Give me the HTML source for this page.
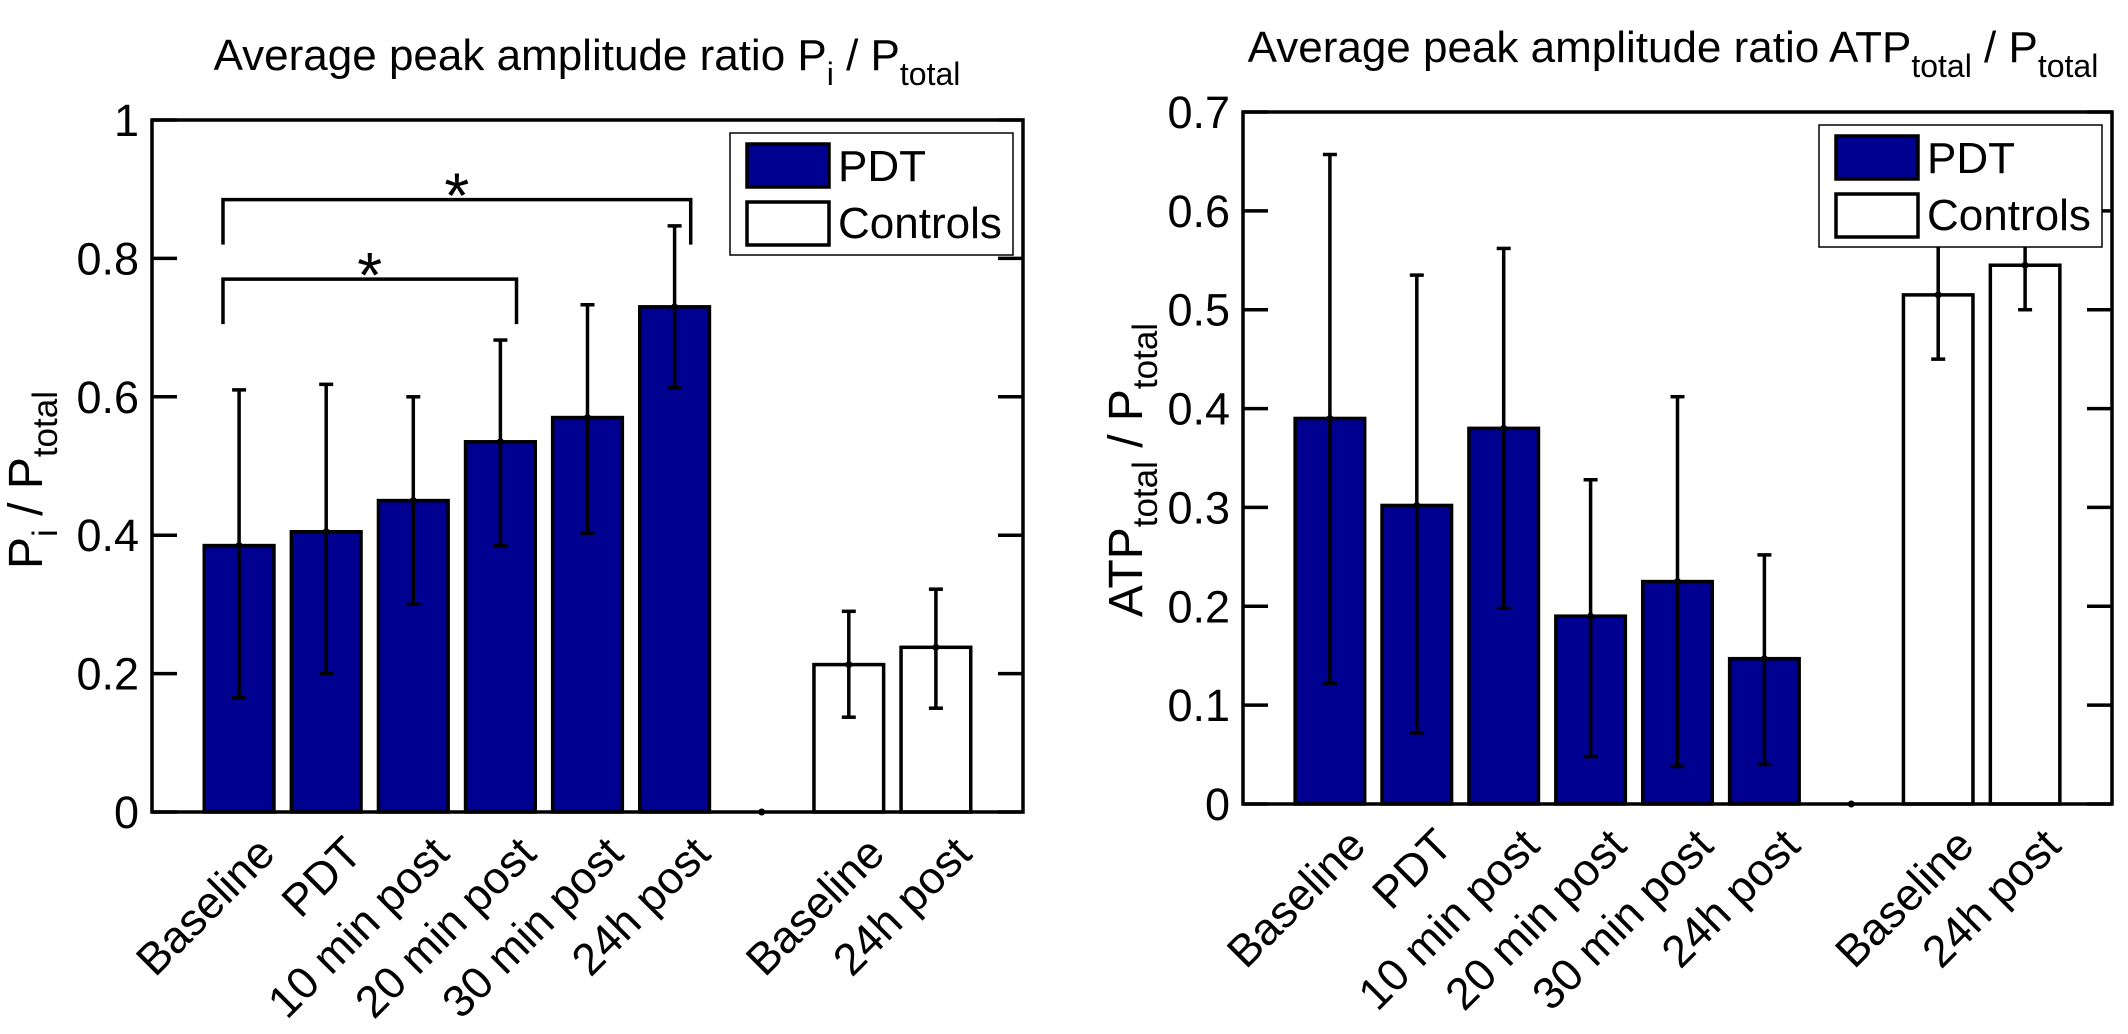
<!DOCTYPE html>
<html><head><meta charset="utf-8"><style>
html,body{margin:0;padding:0;background:#fff}
svg{display:block;font-family:"Liberation Sans",Arial,sans-serif}
</style></head><body>
<svg id="fig" width="2128" height="1034" viewBox="0 0 2128 1034" xmlns="http://www.w3.org/2000/svg">
<rect width="2128" height="1034" fill="#fff"/>
</svg>
<script>
const categories = ["Baseline","PDT","10 min post","20 min post","30 min post","24h post","","Baseline","24h post"];
const groups = ["PDT","PDT","PDT","PDT","PDT","PDT","none","Controls","Controls"];
const leftValues = [0.385,0.405,0.45,0.535,0.57,0.73,0,0.213,0.238];
const leftLow = [0.165,0.2,0.3,0.385,0.403,0.613,0,0.137,0.15];
const leftHigh = [0.61,0.618,0.6,0.682,0.733,0.847,0,0.29,0.322];
const leftTicks = [0,0.2,0.4,0.6,0.8,1];
const leftTickLabels = ["0","0.2","0.4","0.6","0.8","1"];
const rightValues = [0.39,0.302,0.38,0.19,0.225,0.147,0,0.515,0.545];
const rightLow = [0.122,0.072,0.198,0.048,0.038,0.04,0,0.45,0.5];
const rightHigh = [0.657,0.535,0.562,0.328,0.412,0.252,0,0.58,0.59];
const rightTicks = [0,0.1,0.2,0.3,0.4,0.5,0.6,0.7];
const rightTickLabels = ["0","0.1","0.2","0.3","0.4","0.5","0.6","0.7"];
const sigFrom = [1,1];
const sigTo = [4,6];
const sigLevel = [0.77,0.885];

const NS="http://www.w3.org/2000/svg";
const svg=document.getElementById('fig');
function mk(tag,attrs,parent){const e=document.createElementNS(NS,tag);for(const k in attrs)e.setAttribute(k,attrs[k]);(parent||svg).appendChild(e);return e;}

function drawChart(cfg){
  const g=mk('g',{});
  
  
  const X=v=>cfg.x0+(v-0)/(10-0)*(cfg.x1-cfg.x0);
  const Y=v=>cfg.y1-(v-0)/(cfg.ymax)*(cfg.y1-cfg.y0);
  const u=(cfg.x1-cfg.x0)/10;
  for(let i=0;i<categories.length;i++){
    const pos=i+1;
    if(groups[i]==='none'){
      const d=mk('circle',{cx:X(pos),cy:Y(0),r:3.5,fill:'#000'},g);
      
      
      continue;
    }
    const v=cfg.values[i];
    const b=mk('rect',{x:X(pos)-0.4*u,y:Y(v),width:0.8*u,height:Y(0)-Y(v),fill:groups[i]==='PDT'?'#000090':'#fff',stroke:'#000','stroke-width':3.5},g);
    
    
  }
  for(let i=0;i<categories.length;i++){
    if(groups[i]==='none')continue;
    const pos=i+1,cx=X(pos);
    const e=mk('g',{stroke:'#000','stroke-width':3.5},g);
    
    
    mk('line',{x1:cx,x2:cx,y1:Y(cfg.low[i]),y2:Y(cfg.high[i])},e);
    mk('line',{x1:cx-7,x2:cx+7,y1:Y(cfg.low[i]),y2:Y(cfg.low[i])},e);
    mk('line',{x1:cx-7,x2:cx+7,y1:Y(cfg.high[i]),y2:Y(cfg.high[i])},e);
    mk('circle',{cx:cx,cy:Y(cfg.values[i]),r:3.5,fill:'#000',stroke:'none'},e);
  }
  const ax=mk('rect',{x:cfg.x0,y:cfg.y0,width:cfg.x1-cfg.x0,height:cfg.y1-cfg.y0,fill:'none',stroke:'#000','stroke-width':3.5},g);
  
  
  for(let i=0;i<cfg.ticks.length;i++){
    const y=Y(cfg.ticks[i]);
    mk('line',{x1:cfg.x0,x2:cfg.x0+25,y1:y,y2:y,stroke:'#000','stroke-width':3.5},g);
    mk('line',{x1:cfg.x1-25,x2:cfg.x1,y1:y,y2:y,stroke:'#000','stroke-width':3.5},g);
    const t=mk('text',{x:cfg.x0-13,y:y+16,'text-anchor':'end','font-size':45,fill:'#000'},g);
    t.textContent=cfg.tickLabels[i];
    
    
  }
  for(let i=0;i<categories.length;i++){
    if(!categories[i])continue;
    const px=X(i+1)+38,py=cfg.y1+44;
    const t=mk('text',{x:0,y:0,'text-anchor':'end','font-size':45,fill:'#000',transform:`translate(${px},${py}) rotate(-45)`},g);
    t.textContent=categories[i];
    
    
  }
  const lx=cfg.x1-293,ly=cfg.y0+13;
  const lg=mk('g',{},g);
  
  
  mk('rect',{x:lx,y:ly,width:283,height:122,fill:'#fff',stroke:'#000','stroke-width':1.5},lg);
  mk('rect',{x:lx+17,y:ly+11,width:82,height:43,fill:'#000090',stroke:'#000','stroke-width':3.5},lg);
  mk('rect',{x:lx+17,y:ly+69,width:82,height:43,fill:'#fff',stroke:'#000','stroke-width':3.5},lg);
  const t1=mk('text',{x:lx+108,y:ly+48,'font-size':44,fill:'#000'},lg);t1.textContent='PDT';
  
  
  const t2=mk('text',{x:lx+108,y:ly+105,'font-size':44,fill:'#000'},lg);t2.textContent='Controls';
  
  
  return {X,Y,g};
}

const L=drawChart({name:'left-chart',x0:152,x1:1023,y0:120,y1:812,ymax:1,values:leftValues,low:leftLow,high:leftHigh,ticks:leftTicks,tickLabels:leftTickLabels});
const R=drawChart({name:'right-chart',x0:1243,x1:2112,y0:112,y1:804,ymax:0.7,values:rightValues,low:rightLow,high:rightHigh,ticks:rightTicks,tickLabels:rightTickLabels});

for(let i=0;i<sigFrom.length;i++){
  const xa=L.X(sigFrom[i]-0.185),xb=L.X(sigTo[i]+0.185),y=L.Y(sigLevel[i]);
  const b=mk('path',{d:`M${xa},${y+45} V${y} H${xb} V${y+45}`,fill:'none',stroke:'#000','stroke-width':3.5});
  
  
  const s=mk('text',{x:(xa+xb)/2,y:y+18,'text-anchor':'middle','font-size':64,fill:'#000'});
  s.textContent='*';
  
  
}
</script>
<script>
(function(){
const NS="http://www.w3.org/2000/svg";const svg=document.getElementById('fig');
function txt(parts,attrs,sub,name){const t=document.createElementNS(NS,'text');for(const k in attrs)t.setAttribute(k,attrs[k]);
 parts.forEach(p=>{const s=document.createElementNS(NS,'tspan');s.textContent=p[0];if(p[1]==='sub'){s.setAttribute('font-size',sub);s.setAttribute('dy',15);}if(p[1]==='back')s.setAttribute('dy',-15);t.appendChild(s);});
 svg.appendChild(t);
 
 
}
txt([["Average peak amplitude ratio P"],["i","sub"],[" / P","back"],["total","sub"]],{x:587,y:70,'text-anchor':'middle','font-size':44,fill:'#000'},32,'left-title');
txt([["Average peak amplitude ratio ATP"],["total","sub"],[" / P","back"],["total","sub"]],{x:1673,y:62,'text-anchor':'middle','font-size':44,fill:'#000'},32,'right-title');
txt([["P"],["i","sub"],[" / P","back"],["total","sub"]],{x:0,y:0,'text-anchor':'middle','font-size':48,fill:'#000',transform:'translate(42,480) rotate(-90)'},35,'left-y-axis-title');
txt([["ATP"],["total","sub"],[" / P","back"],["total","sub"]],{x:0,y:0,'text-anchor':'middle','font-size':48,fill:'#000',transform:'translate(1142,470) rotate(-90)'},35,'right-y-axis-title');
})();
</script>
</body></html>
